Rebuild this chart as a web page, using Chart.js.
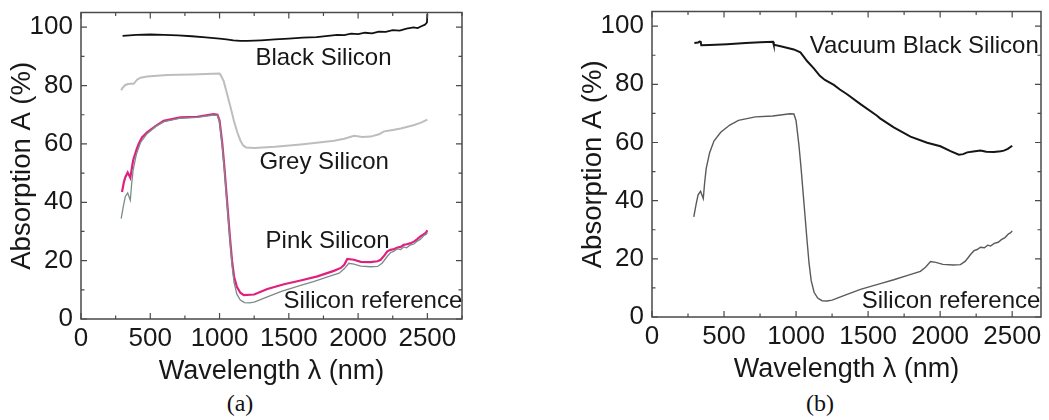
<!DOCTYPE html>
<html>
<head>
<meta charset="utf-8">
<script src="https://cdn.jsdelivr.net/npm/chart.js@4.4.1/dist/chart.umd.min.js"></script>
<style>
  body { margin: 0; background: #fff; width: 1049px; height: 420px; position: relative; overflow: hidden; }
  canvas { position: absolute; }
  #chartA { left: 1px; top: -11px; }
  #chartB { left: 572px; top: -12px; }
  .cap { position: absolute; font-family: 'Liberation Serif', 'Times New Roman', serif; font-size: 24px; color: #111; transform: translate(-50%, -50%); }
</style>
</head>
<body>
<canvas id="chartA" width="480" height="399"></canvas>
<canvas id="chartB" width="477" height="398"></canvas>
<div class="cap" style="left:240px; top:403px;">(a)</div>
<div class="cap" style="left:820px; top:403px;">(b)</div>
<script>
// wavelengths in nm, absorption in %
const blackNm = [300, 350, 400, 500, 600, 700, 800, 900, 1000, 1050, 1100, 1150, 1200, 1300, 1400, 1500, 1600, 1700, 1800, 1850, 1900, 1950, 2000, 2050, 2100, 2150, 2200, 2250, 2300, 2350, 2400, 2430, 2460, 2480, 2490, 2497, 2500];
const blackA = [97.0, 97.2, 97.4, 97.5, 97.4, 97.2, 96.9, 96.5, 96.1, 95.8, 95.5, 95.3, 95.3, 95.5, 95.8, 96.1, 96.4, 96.6, 97.1, 97.4, 97.3, 97.8, 97.6, 98.1, 97.9, 98.5, 98.4, 99.0, 98.8, 99.5, 99.9, 99.7, 100.4, 100.8, 101.2, 101.6, 104.5];

const greyNm = [290, 300, 320, 340, 357, 380, 405, 430, 477, 550, 622, 700, 800, 900, 1000, 1010, 1030, 1055, 1080, 1103, 1128, 1151, 1170, 1190, 1250, 1400, 1586, 1700, 1827, 1900, 1971, 2030, 2092, 2150, 2188, 2250, 2308, 2350, 2400, 2450, 2500];
const greyA = [78.4, 79.2, 80.2, 80.5, 80.6, 80.6, 82.0, 82.7, 83.1, 83.4, 83.6, 83.7, 83.8, 84.0, 84.1, 83.4, 81.5, 77.0, 72.5, 68.0, 64.0, 61.1, 59.5, 58.8, 58.6, 59.0, 59.8, 60.4, 61.1, 61.8, 62.8, 62.4, 62.5, 63.3, 64.3, 64.8, 65.3, 65.8, 66.4, 67.2, 68.3];

const pinkNm = [296, 310, 320, 337, 356, 376, 400, 416, 440, 477, 540, 597, 717, 838, 958, 985, 1000, 1020, 1035, 1045, 1060, 1075, 1090, 1105, 1125, 1150, 1175, 1250, 1345, 1465, 1585, 1706, 1825, 1875, 1900, 1922, 1970, 2019, 2090, 2140, 2163, 2190, 2211, 2235, 2260, 2285, 2307, 2330, 2350, 2375, 2403, 2425, 2450, 2475, 2490, 2500];
const pinkA = [43.5, 47.0, 48.6, 50.2, 48.4, 54.3, 58.0, 60.0, 62.2, 64.0, 66.2, 67.9, 69.1, 69.3, 70.2, 70.0, 68.0, 60.0, 52.0, 46.0, 37.0, 28.0, 20.0, 14.5, 11.0, 9.0, 8.2, 8.4, 10.3, 11.9, 13.2, 14.6, 16.5, 17.5, 18.6, 20.6, 20.3, 19.6, 19.5, 19.8, 20.3, 21.8, 23.2, 23.7, 24.0, 24.5, 24.7, 25.4, 25.6, 25.9, 26.5, 27.3, 28.3, 29.1, 29.6, 30.4];

const refNm = [290, 305, 320, 337, 356, 365, 376, 400, 430, 477, 540, 600, 717, 838, 958, 985, 1000, 1020, 1035, 1045, 1060, 1075, 1090, 1105, 1125, 1150, 1180, 1215, 1250, 1345, 1447, 1585, 1678, 1780, 1863, 1900, 1933, 1970, 2019, 2090, 2141, 2175, 2211, 2235, 2257, 2280, 2307, 2330, 2350, 2375, 2403, 2425, 2450, 2475, 2490, 2500];
const refA = [34.4, 38.5, 42.0, 43.2, 40.7, 46.0, 51.0, 56.5, 60.5, 63.5, 66.0, 67.6, 68.8, 69.1, 69.9, 69.8, 67.5, 59.0, 51.0, 45.0, 36.0, 27.0, 18.5, 12.5, 8.5, 6.5, 5.6, 5.5, 5.8, 7.6, 9.5, 11.5, 12.8, 14.4, 15.7, 17.2, 19.1, 18.8, 18.1, 17.9, 18.0, 19.2, 21.5, 22.8, 23.2, 24.0, 23.8, 24.7, 24.4, 25.3, 25.7, 26.6, 27.3, 28.6, 29.0, 29.6];

const vacNm = [294, 320, 330, 338, 342, 400, 521, 650, 752, 840, 845, 900, 984, 1030, 1049, 1076, 1123, 1165, 1200, 1262, 1304, 1354, 1447, 1562, 1583, 1678, 1794, 1910, 2002, 2072, 2130, 2160, 2188, 2230, 2280, 2320, 2373, 2420, 2442, 2470, 2500];
const vacA = [94.2, 94.4, 94.7, 94.6, 93.4, 93.5, 93.8, 94.2, 94.5, 94.6, 93.6, 93.0, 92.0, 91.0, 89.8, 88.0, 85.5, 82.9, 81.5, 79.8, 78.2, 76.6, 73.2, 69.2, 68.3, 65.2, 62.0, 59.9, 58.7, 57.0, 55.8, 56.0, 56.6, 56.9, 57.2, 56.8, 56.7, 57.0, 57.2, 57.8, 58.9];

const xTicks = [0, 500, 1000, 1500, 2000, 2500];
const yTicks = [0, 20, 40, 60, 80, 100];

const font = "'Liberation Sans', Arial, sans-serif";
const textColor = '#181818';

function pts(xs, ys) {
    return xs.map((x, i) => ({x: x, y: ys[i]}));
}

// box round the plot with inward ticks on all four sides, plus curve labels
const framePlugin = {
    id: 'frame',
    afterDraw(chart, args, opts) {
        const ctx = chart.ctx;
        const a = chart.chartArea;
        const xs = chart.scales.x, ys = chart.scales.y;
        ctx.save();
        ctx.globalAlpha = 1;
        ctx.setLineDash([]);
        ctx.strokeStyle = '#4a4a4a';
        ctx.lineWidth = 1.5;
        ctx.beginPath();
        ctx.rect(a.left, a.top, a.right - a.left, a.bottom - a.top);
        ctx.stroke();
        ctx.lineWidth = 1.2;
        ctx.beginPath();
        for (let v = 0; v <= 2750; v += 250) {
            const p = xs.getPixelForValue(v);
            if (p > a.right + 1) break;
            const len = v % 500 === 0 ? 6 : 3.5;
            ctx.moveTo(p, a.bottom); ctx.lineTo(p, a.bottom - len);
            ctx.moveTo(p, a.top); ctx.lineTo(p, a.top + len);
        }
        for (let v = 0; v <= 100; v += 10) {
            const p = ys.getPixelForValue(v);
            const len = v % 20 === 0 ? 6 : 3.5;
            ctx.moveTo(a.left, p); ctx.lineTo(a.left + len, p);
            ctx.moveTo(a.right, p); ctx.lineTo(a.right - len, p);
        }
        ctx.stroke();
        ctx.fillStyle = textColor;
        ctx.font = '24px ' + font;
        ctx.textAlign = 'left';
        ctx.textBaseline = 'middle';
        (opts.labels || []).forEach(l => {
            ctx.fillText(l.text, xs.getPixelForValue(l.x), ys.getPixelForValue(l.y));
        });
        ctx.restore();
    }
};

function makeChart(id, datasets, xMax, padRight, labels) {
    const ctx = document.getElementById(id).getContext('2d');
    return new Chart(ctx, {
        type: 'line',
        data: { datasets: datasets },
        options: {
            responsive: false,
            animation: false,
            devicePixelRatio: 1,
            parsing: false,
            layout: { padding: { top: 1, right: padRight, left: 0, bottom: 0 } },
            elements: { point: { radius: 0 }, line: { tension: 0 } },
            plugins: {
                legend: { display: false },
                tooltip: { enabled: false },
                frame: { labels: labels }
            },
            scales: {
                x: {
                    type: 'linear',
                    min: 0,
                    max: xMax,
                    grid: { display: false, drawTicks: false },
                    border: { display: false },
                    afterBuildTicks: s => { s.ticks = xTicks.map(v => ({value: v})); },
                    afterFit: s => { s.height = 69; },
                    ticks: { font: { family: font, size: 26 }, color: textColor, padding: 4, maxRotation: 0, callback: v => String(v) },
                    title: { display: true, text: 'Wavelength λ (nm)', font: { family: font, size: 27 }, color: textColor, padding: 0 }
                },
                y: {
                    min: 0,
                    max: 105,
                    grid: { display: false, drawTicks: false },
                    border: { display: false },
                    afterBuildTicks: s => { s.ticks = yTicks.map(v => ({value: v})); },
                    afterFit: s => { s.width = 80; },
                    ticks: { font: { family: font, size: 26 }, color: textColor, padding: 8, callback: v => String(v) },
                    title: { display: true, text: 'Absorption A (%)', font: { family: font, size: 27.5 }, color: textColor, padding: 5 }
                }
            }
        },
        plugins: [framePlugin]
    });
}

makeChart('chartA', [
    { data: pts(blackNm, blackA), borderColor: '#111111', borderWidth: 1.8 },
    { data: pts(greyNm, greyA), borderColor: '#bdbdbd', borderWidth: 2 },
    { data: pts(refNm, refA), borderColor: '#7d8a8a', borderWidth: 1.3 },
    { data: pts(pinkNm, pinkA), borderColor: '#e0207f', borderWidth: 2.2 }
], 2750, 19, [
    { text: 'Black Silicon', x: 1259, y: 89.4 },
    { text: 'Grey Silicon', x: 1288, y: 53.6 },
    { text: 'Pink Silicon', x: 1332, y: 26.7 },
    { text: 'Silicon reference', x: 1462, y: 5.9 }
]);

makeChart('chartB', [
    { data: pts(vacNm, vacA), borderColor: '#151515', borderWidth: 2 },
    { data: pts(refNm, refA), borderColor: '#5a5a5a', borderWidth: 1.4 }
], 2700, 8, [
    { text: 'Vacuum Black Silicon', x: 1095, y: 93.2 },
    { text: 'Silicon reference', x: 1455, y: 5.3 }
]);
</script>
</body>
</html>
